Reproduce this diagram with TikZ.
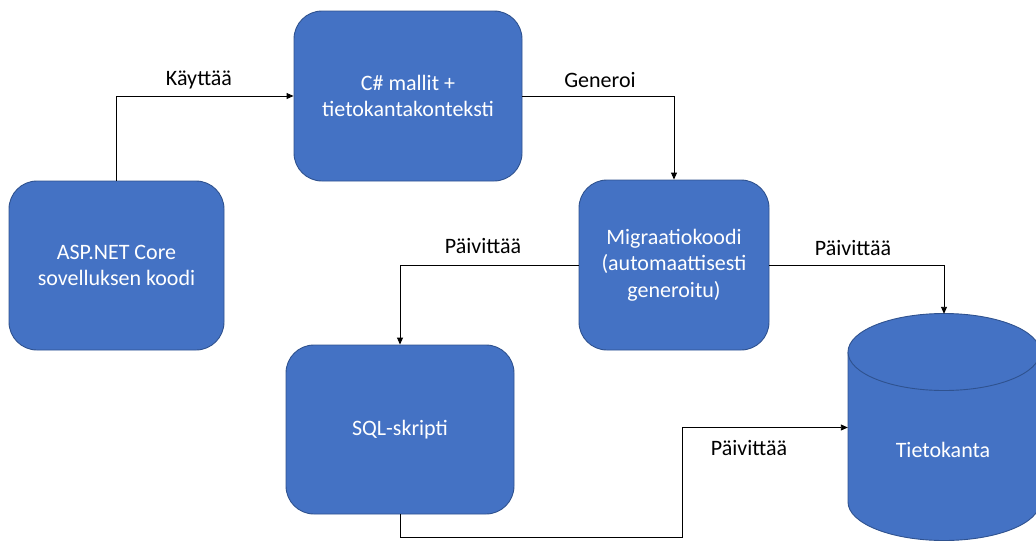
\documentclass[tikz,border=0pt]{standalone}
\usepackage{fontspec}
\setmainfont{Carlito}
\usetikzlibrary{arrows.meta}
\definecolor{boxblue}{HTML}{4472C4}
\definecolor{boxedge}{HTML}{2F528F}
\begin{document}
\begin{tikzpicture}[x=1pt,y=-1pt,
  every node/.style={font=\fontsize{22}{26.5}\selectfont},
  block/.style={rectangle, rounded corners=28pt, fill=boxblue, draw=boxedge,
    line width=0.9pt, text=white, align=center, inner sep=0pt},
  conn/.style={draw=black, line width=0.9pt, -{Triangle[length=7pt,width=6pt]}},
  lbl/.style={text=black, inner sep=0pt}]
\useasboundingbox (0,0) rectangle (1036,541);

% process boxes
\node[block, minimum width=215pt, minimum height=169pt] (asp) at (116.5,265.5)
  {ASP.NET Core\\sovelluksen koodi};
\node[block, minimum width=228pt, minimum height=170pt] (cs) at (408,96)
  {C\# mallit +\\tietokantakonteksti};
\node[block, minimum width=190pt, minimum height=170pt] (mig) at (674,265)
  {Migraatiokoodi\\(automaattisesti\\generoitu)};
\node[block, minimum width=228pt, minimum height=169pt] (sql) at (400,429.5)
  {SQL-skripti};

% database cylinder
\node[minimum width=192pt, minimum height=227pt, inner sep=0pt] (db) at (944,427.5) {};
\fill[boxblue] (848,352) -- (848,502)
  arc[start angle=180, end angle=360, x radius=96pt, y radius=38.5pt]
  -- (1040,352) -- cycle;
\draw[boxedge, line width=0.9pt] (848,352) -- (848,502)
  arc[start angle=180, end angle=360, x radius=96pt, y radius=38.5pt]
  -- (1040,352);
\draw[boxedge, fill=boxblue, line width=0.9pt] (944,352)
  ellipse[x radius=96pt, y radius=38.5pt];
\node[text=white] at (943,450) {Tietokanta};

% connectors
\coordinate (bend) at (682,537);
\draw[conn] (asp.north) |- (cs.west);
\draw[conn] (cs.east) -| (mig.north);
\draw[conn] (mig.west) -| (sql.north);
\draw[conn] (mig.east) -| (db.north);
\draw[conn] (sql.south) |- (bend) |- (db.west);

% connector labels
\node[lbl] at (199,80) {Käyttää};
\node[lbl] at (600,80) {Generoi};
\node[lbl] at (483,246) {Päivittää};
\node[lbl] at (853,248) {Päivittää};
\node[lbl] at (749,448) {Päivittää};
\end{tikzpicture}
\end{document}
